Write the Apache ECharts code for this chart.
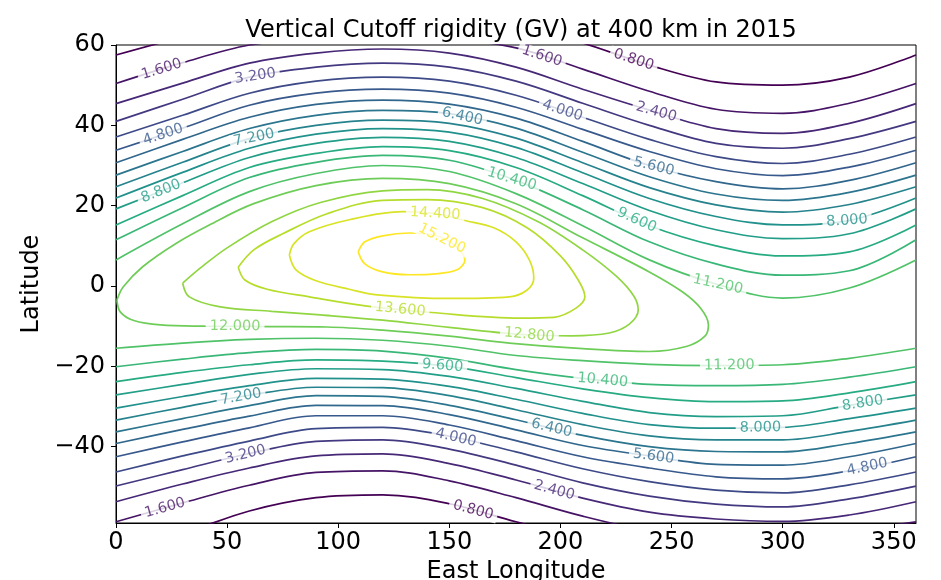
<!DOCTYPE html>
<html>
<head>
<meta charset="utf-8">
<script src="https://cdn.jsdelivr.net/npm/echarts@6/dist/echarts.min.js"></script>
<style>
  html, body { margin: 0; padding: 0; background: #fff; }
  #chart { width: 941px; height: 580px; }
</style>
</head>
<body>
<div id="chart"></div>
<script>
// Contour levels of vertical cutoff rigidity (GV)
const levels = [0.8, 1.6, 2.4, 3.2, 4.0, 4.8, 5.6, 6.4, 7.2, 8.0, 8.8, 9.6, 10.4, 11.2, 12.0, 12.8, 13.6, 14.4, 15.2];

// Longitudes at which the open (east-west) contours are sampled
const lonCols = [0, 30, 60, 90, 120, 150, 180, 210, 240, 270, 300, 330, 360];

// Northern contours: latitude of each level at lonCols
const north08  = [57.5, 62, 66, 68, 69, 68, 65, 60.5, 55, 50.8, 50, 52, 57.5];
const north16  = [50.4, 55.6, 60, 61.5, 62, 61.5, 59.3, 54, 48.5, 44, 43, 45.5, 50.4];
const north24  = [45.4, 50.5, 55.5, 58, 59, 58, 54.5, 49, 43.8, 39.2, 38, 40.5, 45.4];
const north32  = [41, 46.5, 52, 54.5, 55.5, 54.5, 51, 45.5, 40, 35.5, 34.3, 36.7, 41];
const north40  = [37.1, 42.5, 48, 51, 52, 51, 47.5, 42, 36.5, 32.2, 30.5, 32.8, 37.1];
const north48  = [33.8, 39.3, 45, 48, 49, 48, 44.5, 39, 33.5, 29.2, 27.5, 29.6, 33.8];
const north56  = [30.7, 36.5, 42, 45.2, 46.3, 45.3, 41.8, 36, 30, 26, 24.2, 26.3, 30.7];
const north64  = [27.6, 33.5, 39.2, 42.5, 43.7, 42.9, 39.3, 33.3, 27.2, 22.9, 21.3, 23.3, 27.6];
const north72  = [24.7, 30.8, 36.7, 40, 41.3, 40.5, 36.8, 30.7, 24.5, 20.2, 18.4, 20.3, 24.7];
const north80  = [21.9, 28.3, 34.3, 37.8, 39.2, 38.3, 34.5, 28.2, 21.8, 17.3, 15.2, 16.3, 21.9];
const north88  = [19.2, 25.7, 32, 35.5, 37, 36, 32, 25.5, 18.8, 14, 11.8, 13, 19.2];
const north96  = [15.2, 22.5, 29.5, 33, 34.7, 33.7, 29.5, 22.5, 15, 10, 7.5, 8.5, 15.2];
const north104 = [11.5, 19.5, 27, 30.8, 32.5, 31.3, 26.3, 19, 11, 5.5, 2.7, 3.8, 11.5];
const north112 = [6.5, 15.5, 23.5, 28, 30, 28.5, 23, 15, 6.5, 0.5, -3, -0.5, 6.5];

// Southern contours: latitude of each level at lonCols
const south08  = [-65, -61.5, -56, -52.7, -52, -54.2, -58.7, -63, -66, -68, -68, -67, -65];
const south16  = [-58.7, -54, -49.6, -46.4, -46, -48.5, -52.7, -57.3, -61, -63, -62.5, -61, -58.7];
const south24  = [-53.7, -49.3, -45.3, -42.3, -41.8, -44.2, -48.3, -52.8, -56.3, -58, -58.6, -57, -53.7];
const south32  = [-49.8, -45.7, -41.7, -38.7, -38.3, -40.6, -44.6, -49, -52.3, -54.3, -55, -53, -49.8];
const south40  = [-46.3, -42.3, -38.6, -35.5, -35.2, -37.4, -41.3, -45.5, -48.7, -50.8, -51.5, -49.5, -46.3];
const south48  = [-42.5, -38.8, -35.3, -32.3, -32.3, -34.6, -38.5, -42.5, -45.3, -47.5, -48, -46, -42.5];
const south56  = [-39.2, -35.7, -32.4, -29.7, -29.8, -32, -35.8, -39.7, -42.3, -44.4, -44.6, -42.5, -39.2];
const south64  = [-36.3, -33, -29.8, -27.3, -27.5, -29.7, -33.3, -37.2, -40, -41.2, -41.3, -39.2, -36.3];
const south72  = [-33.4, -30.2, -27.2, -25.2, -25.3, -27.3, -30.8, -34.5, -37.3, -38.3, -38.3, -36.2, -33.4];
const south80  = [-30.4, -27.5, -24.8, -23, -23.2, -25, -28.2, -31.7, -34.5, -35.4, -35.2, -33, -30.4];
const south88  = [-27.1, -24.5, -22, -20.6, -20.8, -22.5, -25.5, -28.7, -31.5, -32.5, -32.3, -29.7, -27.1];
const south96  = [-23.8, -21.5, -19.6, -18.4, -18.7, -20, -22.8, -25.6, -27.8, -28.8, -28.6, -26.6, -23.8];
const south104 = [-20.1, -18.2, -16.6, -15.8, -16.2, -18, -20.8, -23, -24.5, -24.8, -24.5, -22.7, -20.1];
const south112 = [-15.5, -14.2, -13.3, -13, -13.5, -15, -17.3, -18.6, -19.5, -19.8, -19.6, -18, -15.5];

// Closed contours around the rigidity maximum: [lon, lat] outlines
const ring120 = [[0.4,-3.5],[2,-6.5],[8,-8.6],[20,-9.7],[40,-10],[70,-10.1],[95,-10.2],[120,-11],[150,-12.5],[177,-14.2],[210,-15.6],[240,-16.3],[257,-15],[265,-12.5],[266.6,-9.7],[263,-5.5],[255,-1.5],[240,3.5],[210,12],[180,20.5],[150,25.5],[120,26.8],[90,25],[62,20.5],[42,15.2],[27,10.6],[12,4.8],[3.3,-0.2],[0.4,-3.5]];
const ring128 = [[30,0.7],[33,-2.7],[47,-5.2],[70,-6.3],[92,-7.2],[120,-8.5],[150,-10.3],[186,-12.2],[205,-12.4],[222,-11.7],[231,-9.5],[235,-6],[233,-2.5],[225,2.5],[210,9],[190,16],[165,21.8],[140,24],[120,23.7],[92,20.8],[70,16],[50,9.5],[38,4.5],[30,0.7]];
const ring136 = [[55,4.7],[58,1.5],[68,-0.8],[87,-2.7],[113,-5],[142,-6.6],[182,-8],[197,-7.8],[207,-5.5],[211,-2.7],[208,1.5],[200,7.5],[185,14.5],[165,19.5],[140,21.5],[120,21.3],[95,18],[75,13],[62,9],[55,4.7]];
const ring144 = [[78,7.7],[81,4],[90,1.3],[105,-0.8],[117.5,-2.2],[150,-3.1],[177,-2.7],[185,-1],[188,2],[186,6.5],[180,11],[170,14.5],[157,16.3],[144,18],[129,18.5],[105,16.5],[87,13.5],[80,10.5],[78,7.7]];
const ring152 = [[109,8.5],[112,11],[120,12.5],[132,13.2],[144,12.5],[152,10.3],[157,6.5],[154,4.2],[145,3.1],[132,2.8],[120,3.5],[112,5.5],[109,8.5]];

// Inline contour labels: [lon, lat, level]
const labelSpots = [
  [20.6, 53.9, 1.6], [62.6, 52.5, 3.2], [20.6, 38.8, 4.8], [62, 37.2, 7.2], [20.6, 23, 8.8],
  [156, 42.6, 6.4], [178, 26.4, 10.4], [191.6, 57.1, 1.6], [233, 56.3, 0.8], [201, 43.8, 4.0],
  [243, 43, 2.4], [242, 29.7, 5.6], [234.3, 16.4, 9.6], [271, 0.7, 11.2], [329, 16, 8.0],
  [143.6, 17.7, 14.4], [146, 11, 15.2], [128, -5.3, 13.6], [186, -12.2, 12.8], [53.6, -9.9, 12.0],
  [147, -19.7, 9.6], [56, -26.8, 7.2], [58, -41.3, 3.2], [22, -55.2, 1.6], [153, -37.7, 4.0],
  [161, -55.3, 0.8], [219, -23.4, 10.4], [196.3, -34.8, 6.4], [197.6, -50.2, 2.4], [242, -42, 5.6],
  [276, -19.7, 11.2], [290, -35, 8.0], [336, -29.2, 8.8], [338, -45, 4.8]
];

// Axis ticks
const xTicks = [0, 50, 100, 150, 200, 250, 300, 350];
const yTicks = [-40, -20, 0, 20, 40, 60];

// ---- colour map (viridis) ----
const VIRIDIS = ['#440154','#482475','#414487','#355f8d','#2a788e','#21918c','#22a884','#44bf70','#7ad151','#bddf26','#fde725'];
function hexRgb(h) { return [1, 3, 5].map(i => parseInt(h.substr(i, 2), 16)); }
function viridis(t) {
  t = Math.max(0, Math.min(1, t));
  const f = t * (VIRIDIS.length - 1);
  const i = Math.min(Math.floor(f), VIRIDIS.length - 2);
  const a = hexRgb(VIRIDIS[i]), b = hexRgb(VIRIDIS[i + 1]);
  const u = f - i;
  const c = a.map((v, k) => Math.round(v + (b[k] - v) * u));
  return 'rgb(' + c.join(',') + ')';
}
const lvMin = levels[0], lvMax = levels[levels.length - 1];
function levelColor(lv) { return viridis((lv - lvMin) / (lvMax - lvMin)); }

// ---- assemble contour paths ----
const openLines = [
  [0.8, north08], [1.6, north16], [2.4, north24], [3.2, north32], [4.0, north40], [4.8, north48],
  [5.6, north56], [6.4, north64], [7.2, north72], [8.0, north80], [8.8, north88], [9.6, north96],
  [10.4, north104], [11.2, north112],
  [0.8, south08], [1.6, south16], [2.4, south24], [3.2, south32], [4.0, south40], [4.8, south48],
  [5.6, south56], [6.4, south64], [7.2, south72], [8.0, south80], [8.8, south88], [9.6, south96],
  [10.4, south104], [11.2, south112]
];
const paths = openLines.map(([lv, lats]) => ({ level: lv, pts: lonCols.map((lon, i) => [lon, lats[i]]) }))
  .concat([[12.0, ring120], [12.8, ring128], [13.6, ring136], [14.4, ring144], [15.2, ring152]]
    .map(([lv, pts]) => ({ level: lv, pts: pts })));

const FONT = 'DejaVu Sans';

const lineSeries = paths.map((p, i) => ({
  id: 'c' + i,
  type: 'line',
  data: p.pts,
  smooth: 0.35,
  showSymbol: false,
  symbol: 'none',
  clip: true,
  silent: true,
  z: 2,
  lineStyle: { color: levelColor(p.level), width: 1.7 },
  animation: false
}));

function fmtTick(v) { return v < 0 ? '\u2212' + Math.abs(v) : String(v); }

const chart = echarts.init(document.getElementById('chart'), null, { renderer: 'canvas' });

const option = {
  animation: false,
  backgroundColor: '#fff',
  title: {
    text: 'Vertical Cutoff rigidity (GV) at 400 km in 2015',
    left: 516,
    textAlign: 'center',
    top: 14,
    textStyle: { fontFamily: FONT, fontSize: 24, fontWeight: 'normal', color: '#000' }
  },
  grid: {
    left: 116, right: 25, top: 45, bottom: 57,
    outerBoundsMode: 'none',
    containLabel: false,
    show: true, borderColor: '#000', borderWidth: 1, backgroundColor: 'transparent'
  },
  xAxis: {
    type: 'value', min: 0, max: 360,
    name: 'East Longitude', nameLocation: 'middle', nameGap: 37,
    nameTextStyle: { fontFamily: FONT, fontSize: 24, color: '#000' },
    axisLine: { show: true, onZero: false, lineStyle: { color: '#000', width: 1 } },
    axisTick: { show: true, length: 5, lineStyle: { color: '#000' }, customValues: xTicks },
    axisLabel: { fontFamily: FONT, fontSize: 24, color: '#000', margin: 8, customValues: xTicks, formatter: fmtTick },
    splitLine: { show: false }
  },
  yAxis: {
    type: 'value', min: -59, max: 60,
    name: 'Latitude', nameLocation: 'middle', nameGap: 64,
    nameTextStyle: { fontFamily: FONT, fontSize: 24, color: '#000' },
    axisLine: { show: true, onZero: false, lineStyle: { color: '#000', width: 1 } },
    axisTick: { show: true, length: 5, lineStyle: { color: '#000' }, customValues: yTicks },
    axisLabel: { fontFamily: FONT, fontSize: 24, color: '#000', margin: 11, customValues: yTicks, formatter: fmtTick },
    splitLine: { show: false }
  },
  series: lineSeries
};
chart.setOption(option);

// ---- place labels on their contours, rotated along the local direction ----
function nearestOnPath(px, pts) {
  let best = null;
  for (let i = 0; i < pts.length - 1; i++) {
    const a = pts[i], b = pts[i + 1];
    const dx = b[0] - a[0], dy = b[1] - a[1];
    const len2 = dx * dx + dy * dy;
    if (len2 === 0) continue;
    let t = ((px[0] - a[0]) * dx + (px[1] - a[1]) * dy) / len2;
    t = Math.max(0, Math.min(1, t));
    const q = [a[0] + t * dx, a[1] + t * dy];
    const d = Math.hypot(px[0] - q[0], px[1] - q[1]);
    if (!best || d < best.d) best = { d: d, q: q, dx: dx, dy: dy };
  }
  return best;
}

const labelData = labelSpots.map(([lon, lat, lv]) => {
  const p = chart.convertToPixel({ gridIndex: 0 }, [lon, lat]);
  let best = null;
  paths.filter(pa => pa.level === lv).forEach(pa => {
    const pix = pa.pts.map(q => chart.convertToPixel({ gridIndex: 0 }, q));
    const r = nearestOnPath(p, pix);
    if (r && (!best || r.d < best.d)) best = r;
  });
  let ang = 0, pos = [lon, lat];
  if (best) {
    ang = -Math.atan2(best.dy, best.dx) * 180 / Math.PI;
    if (ang > 90) ang -= 180;
    if (ang < -90) ang += 180;
    const mid = [(p[0] + best.q[0]) / 2, (p[1] + best.q[1]) / 2];
    const snapped = best.d < 6 ? best.q : mid;
    pos = chart.convertFromPixel({ gridIndex: 0 }, snapped);
  }
  const col = levelColor(lv);
  return {
    value: pos,
    label: {
      show: true,
      formatter: lv.toFixed(3),
      rotate: ang,
      color: col,
      fontFamily: FONT,
      fontSize: 14.5,
      backgroundColor: '#fff',
      padding: [0, 4],
      lineHeight: 14,
      position: 'inside'
    }
  };
});

chart.setOption({
  series: lineSeries.concat([{
    id: 'labels',
    type: 'scatter',
    data: labelData,
    symbolSize: 0,
    silent: true,
    z: 5,
    itemStyle: { color: 'rgba(0,0,0,0)' },
    animation: false
  }])
});
</script>
</body>
</html>
